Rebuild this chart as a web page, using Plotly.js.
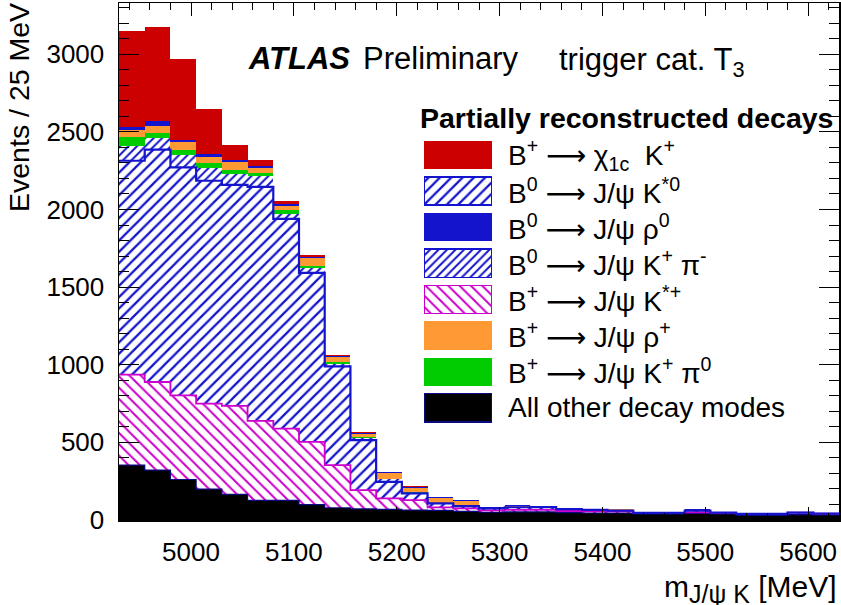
<!DOCTYPE html>
<html>
<head>
<meta charset="utf-8">
<script src="https://cdn.plot.ly/plotly-3.0.1.min.js"></script>
<style>html,body{margin:0;padding:0;background:#fff;}#chart{width:841px;height:605px;}</style>
</head>
<body>
<div id="chart"></div>
<script>
// ---- data (events per 25 MeV bin) ----
const binCenters = [4942.5, 4967.5, 4992.5, 5017.5, 5042.5, 5067.5, 5092.5, 5117.5, 5142.5, 5167.5,
                    5192.5, 5217.5, 5242.5, 5267.5, 5292.5, 5317.5, 5342.5, 5367.5, 5392.5, 5417.5,
                    5442.5, 5467.5, 5492.5, 5517.5, 5542.5, 5567.5, 5592.5, 5617.5];
const binWidth = 25;
const otherModes = [353, 321, 261, 199, 165, 126, 126, 99, 79, 72, 68, 64, 62, 55, 50, 52, 52, 48, 45, 45, 40, 40, 42, 40, 30, 30, 35, 33];
const bpKstarP  = [583, 568, 542, 551, 570, 512, 463, 404, 274, 121, 71, 64, 19, 20, 12, 13, 13, 10, 10, 10, 6, 6, 7, 6, 10, 10, 13, 8];
const b0Kstar0  = [1378, 1496, 1468, 1435, 1424, 1508, 1350, 1089, 637, 321, 107, 43, 26, 15, 13, 17, 18, 12, 10, 6, 0, 0, 12, 2, 0, 0, 0, 0];
const b0KPi     = [92, 77, 80, 85, 69, 71, 30, 32, 17, 17, 15, 5, 0, 5, 0, 0, 0, 0, 0, 0, 0, 0, 0, 0, 0, 0, 0, 0];
const bpKPi0    = [64, 30, 34, 32, 26, 21, 28, 15, 11, 3, 2, 2, 5, 3, 0, 0, 0, 0, 0, 0, 0, 0, 0, 0, 0, 0, 0, 0];
const bpRhoP    = [43, 49, 47, 39, 49, 28, 28, 49, 32, 21, 39, 28, 28, 23, 4, 8, 0, 0, 0, 8, 5, 5, 0, 0, 0, 0, 0, 0];
const b0Rho0    = [17, 26, 15, 15, 15, 15, 12, 9, 6, 6, 5, 8, 6, 5, 3, 4, 4, 5, 6, 0, 0, 0, 8, 5, 3, 3, 0, 6];
const bpChi1c   = [621, 606, 524, 289, 96, 40, 15, 11, 9, 6, 3, 3, 3, 2, 0, 2, 3, 0, 0, 0, 0, 0, 0, 0, 0, 0, 5, 0];

const ARROW = '<span style="font-family:DejaVu Sans">⟶</span>';
const legendLabels = [
  "B<sup>+</sup> " + ARROW + " χ<sub>1c</sub>  K<sup>+</sup>",
  "B<sup>0</sup> " + ARROW + " J/ψ K<sup>*0</sup>",
  "B<sup>0</sup> " + ARROW + " J/ψ ρ<sup>0</sup>",
  "B<sup>0</sup> " + ARROW + " J/ψ K<sup>+</sup> π<sup>-</sup>",
  "B<sup>+</sup> " + ARROW + " J/ψ K<sup>*+</sup>",
  "B<sup>+</sup> " + ARROW + " J/ψ ρ<sup>+</sup>",
  "B<sup>+</sup> " + ARROW + " J/ψ K<sup>+</sup> π<sup>0</sup>",
  "All other decay modes"
];

// ---- styles ----
const BLUE = '#1414cc', MAG = '#cc00cc', RED = '#cc0000', ORANGE = '#ff9933', GREEN = '#00cc00', NAVY = '#0a0a80';
const solid = c => ({color: c, line: {width: 0}});
const hatch = (c, shape, size, sol) => ({color: '#ffffff', line: {width: 0},
  pattern: {shape: shape, fgcolor: c, bgcolor: '#ffffff', size: size, solidity: sol, fillmode: 'replace'}});

// stacking order bottom -> top
const layers = [
  {y: otherModes, m: solid('#000000'), leg: 7, border: NAVY},
  {y: bpKstarP,   m: hatch(MAG, '\\', 8, 0.25), leg: 4, border: MAG},
  {y: b0Kstar0,   m: hatch(BLUE, '/', 8, 0.28), leg: 1, border: BLUE},
  {y: b0KPi,      m: hatch(BLUE, '/', 6, 0.33), leg: 3, border: BLUE},
  {y: bpKPi0,     m: solid(GREEN), leg: 6},
  {y: bpRhoP,     m: solid(ORANGE), leg: 5},
  {y: b0Rho0,     m: solid(BLUE), leg: 2},
  {y: bpChi1c,    m: solid(RED), leg: 0}
];

const traces = [];
layers.forEach(Ly => {
  traces.push({type: 'bar', x: binCenters, y: Ly.y, width: binWidth, marker: Ly.m,
               showlegend: false, hoverinfo: 'skip'});
});

// step outlines of a few layers (cumulative)
const edges = binCenters.map(c => c - binWidth / 2).concat([binCenters[binCenters.length - 1] + binWidth / 2]);
function cum(n) {
  return binCenters.map((_, i) => { let s = 0; for (let k = 0; k < n; k++) s += layers[k].y[i]; return s; });
}
function stepLine(n, color, w) {
  const c = cum(n);
  traces.push({type: 'scatter', mode: 'lines', x: edges, y: c.concat([c[c.length - 1]]),
               line: {shape: 'hv', color: color, width: w}, showlegend: false, hoverinfo: 'skip'});
}
stepLine(1, NAVY, 1.2);
stepLine(2, MAG, 1.8);
stepLine(3, BLUE, 2.2);

// legend swatches on a hidden helper axis
layers.forEach(Ly => {
  const m = JSON.parse(JSON.stringify(Ly.m));
  m.line = Ly.border ? {color: Ly.border, width: 1.5} : {width: 0};
  traces.push({type: 'bar', orientation: 'h', x: [1], y: [Ly.leg], width: 0.78, base: 0,
               marker: m, xaxis: 'x2', yaxis: 'y2', showlegend: false, hoverinfo: 'skip'});
});

// ---- layout helpers (pixel -> paper) ----
const W = 841, H = 605, ML = 119, MR = 2, MT = 3, MB = 85;
const px = x => (x - ML) / (W - ML - MR);
const py = y => (H - MB - y) / (H - MT - MB);
const FONT = '"Liberation Sans", Arial, Helvetica, sans-serif';

const rowY0 = 155, rowDy = 36.1;
const annotations = [
  {text: '<b><i>ATLAS</i></b>', x: px(246), y: py(58), xanchor: 'left', yanchor: 'middle', font: {size: 31}},
  {text: 'Preliminary', x: px(361), y: py(58), xanchor: 'left', yanchor: 'middle', font: {size: 31}},
  {text: 'trigger cat. T<sub>3</sub>', x: px(557), y: py(62), xanchor: 'left', yanchor: 'middle', font: {size: 31}},
  {text: '<b>Partially reconstructed decays</b>', x: px(418), y: py(118), xanchor: 'left', yanchor: 'middle', font: {size: 28.5}},
  {text: 'Events / 25 MeV', x: px(19), y: py(108), xanchor: 'center', yanchor: 'middle', textangle: -90, font: {size: 28.5}},
  {text: 'm<sub><span style="font-size:25px">J/ψ K</span></sub> [MeV]', x: px(839), y: py(568), xanchor: 'right', yanchor: 'top', font: {size: 30}}
];
legendLabels.forEach((t, i) => {
  annotations.push({text: t, x: px(506), y: py(rowY0 + i * rowDy), xanchor: 'left', yanchor: 'middle', font: {size: 28}});
});
annotations.forEach(a => { a.xref = 'paper'; a.yref = 'paper'; a.showarrow = false; a.font.family = FONT; a.font.color = '#000'; });

const layout = {
  width: W, height: H,
  margin: {l: ML, r: MR, t: MT, b: MB},
  paper_bgcolor: '#fff', plot_bgcolor: '#fff',
  barmode: 'stack', bargap: 0, showlegend: false,
  font: {family: FONT, color: '#000'},
  xaxis: {range: [4930, 5630], tick0: 5000, dtick: 100, ticks: 'inside', ticklen: 13, tickwidth: 1, tickcolor: '#000',
          minor: {dtick: 20, ticks: 'inside', ticklen: 7, tickcolor: '#000'},
          showline: true, linecolor: '#000', linewidth: 1.5, mirror: 'ticks', showgrid: false, zeroline: false,
          tickfont: {size: 26, family: FONT}, ticklabelstandoff: 8},
  yaxis: {range: [0, 3330], dtick: 500, ticks: 'inside', ticklen: 20, tickwidth: 1, tickcolor: '#000',
          minor: {dtick: 100, ticks: 'inside', ticklen: 10, tickcolor: '#000'},
          showline: true, linecolor: '#000', linewidth: 1.5, mirror: 'ticks', showgrid: false, zeroline: false,
          tickfont: {size: 26, family: FONT}, ticklabelstandoff: 8},
  xaxis2: {domain: [px(424), px(492)], range: [0, 1], visible: false, anchor: 'y2', fixedrange: true},
  yaxis2: {domain: [py(rowY0 + 7.5 * rowDy), py(rowY0 - 0.5 * rowDy)], range: [7.5, -0.5], visible: false, anchor: 'x2', fixedrange: true},
  annotations: annotations
};

Plotly.newPlot('chart', traces, layout, {staticPlot: true, displayModeBar: false});
</script>
</body>
</html>
